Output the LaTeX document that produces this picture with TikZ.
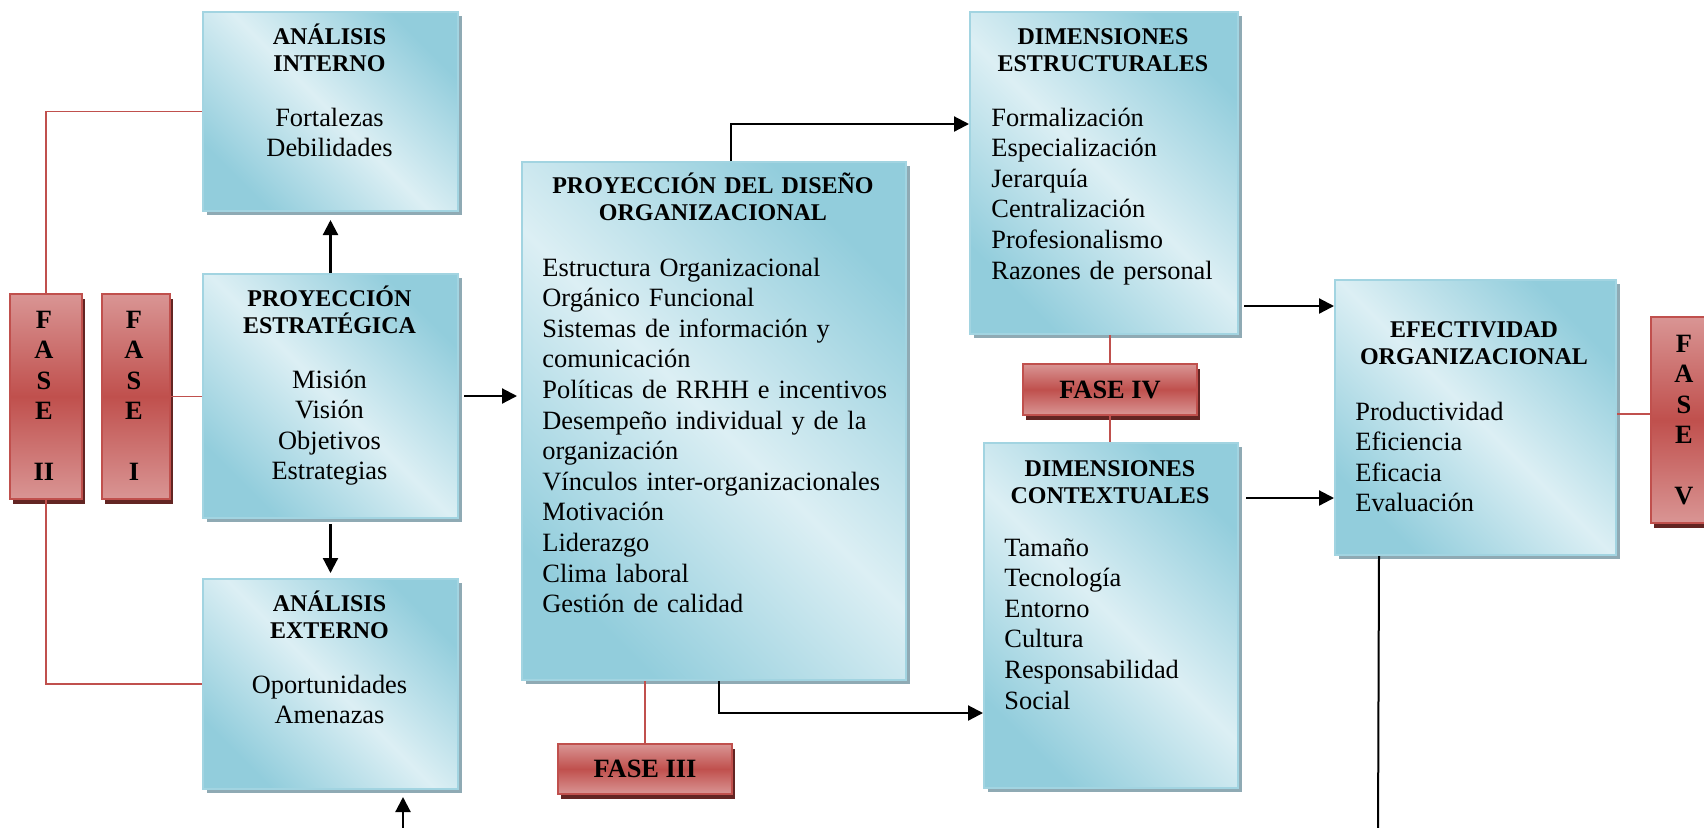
\documentclass[tikz,border=0pt]{standalone}
\usepackage{fontspec}
\setmainfont{Liberation Serif}
\usetikzlibrary{arrows.meta,shadows,calc}
\definecolor{bluedark}{HTML}{92CDDC}
\definecolor{bluelight}{HTML}{DCEFF4}
\definecolor{blueborder}{HTML}{A2D4E1}
\definecolor{blueshadow}{HTML}{8FAAB4}
\definecolor{redlight}{HTML}{D99594}
\definecolor{reddark}{HTML}{C0504D}
\definecolor{redborder}{HTML}{C0504D}
\definecolor{redshadow}{HTML}{632523}
\definecolor{redconn}{HTML}{C0504D}
\newcommand\ttlfont{\fontsize{12}{13.5}\selectfont\bfseries}
\newcommand\bdyfont{\fontsize{13.2}{15.3}\selectfont}
\newcommand\fsfont{\fontsize{13.2}{15.25}\selectfont\bfseries}
\tikzset{
  bluebox/.style={draw=blueborder, line width=1pt, top color=bluedark, bottom color=bluedark, middle color=bluelight, shading angle=-45, general shadow={fill=blueshadow, shadow xshift=2pt, shadow yshift=-2pt}, anchor=north west, inner sep=0pt},
  redbox/.style={draw=redborder, line width=1pt, top color=redlight, bottom color=redlight, middle color=reddark, general shadow={fill=redshadow, shadow xshift=1.5pt, shadow yshift=-2.5pt}, anchor=north west, inner sep=0pt, font=\fsfont},
  titletext/.style={font=\ttlfont, align=center, text width=125pt, inner sep=0pt, anchor=base},
  cbody/.style={font=\bdyfont, align=center, text width=125pt, inner sep=0pt, anchor=base},
  lbody/.style={font=\bdyfont, align=left, text width=130pt, inner sep=0pt, anchor=base west},
  fsletters/.style={font=\fsfont, align=center, text width=30pt, inner sep=0pt, anchor=base},
  redline/.style={draw=redconn, line width=0.9pt},
  arr/.style={draw=black, line width=1.1pt, -{Triangle[length=7.5pt,width=7.5pt]}},
  plain/.style={draw=black, line width=1pt}
}
\begin{document}
\begin{tikzpicture}[x=0.5pt,y=-0.5pt]
\useasboundingbox (0,0) rectangle (1704,827);
\clip (0,0) rectangle (1704,827);

% blue boxes
\node[bluebox, minimum width=127.5pt, minimum height=99.5pt] (ai) at (202,11) {};
\node[bluebox, minimum width=127.5pt, minimum height=122pt] (pe) at (202,273) {};
\node[bluebox, minimum width=127.5pt, minimum height=105pt] (ae) at (202,578) {};
\node[bluebox, minimum width=192pt, minimum height=259pt] (pdo) at (521,161) {};
\node[bluebox, minimum width=134pt, minimum height=161pt] (de) at (969,11) {};
\node[bluebox, minimum width=127pt, minimum height=172.5pt] (dc) at (983,442) {};
\node[bluebox, minimum width=140.5pt, minimum height=137.5pt] (eo) at (1334,279) {};

% red boxes
\node[redbox, minimum width=36pt, minimum height=102.5pt] (f2) at (9,293) {};
\node[redbox, minimum width=34pt, minimum height=102.5pt] (f1) at (101,293) {};
\node[redbox, minimum width=34pt, minimum height=103pt] (f5) at (1650,316) {};
\node[redbox, minimum width=87pt, minimum height=25pt] (f3) at (557,743) {FASE III};
\node[redbox, minimum width=87pt, minimum height=25.5pt] (f4) at (1022,363) {FASE IV};

% texts
\node[titletext] (ait) at (329.5,44) {ANÁLISIS\\INTERNO};
\node[cbody] (aib) at (329.5,126) {Fortalezas\\Debilidades};
\node[titletext] (pet) at (329.5,306) {PROYECCIÓN\\ESTRATÉGICA};
\node[cbody] (peb) at (329.5,388) {Misión\\Visión\\Objetivos\\Estrategias};
\node[titletext] (aet) at (329.5,611) {ANÁLISIS\\EXTERNO};
\node[cbody] (aeb) at (329.5,693) {Oportunidades\\Amenazas};
\node[titletext, text width=190pt] (pdot) at (713,193) {PROYECCIÓN DEL DISEÑO\\ORGANIZACIONAL};
\node[lbody, text width=185pt] (pdob) at (542,276) {Estructura Organizacional\\Orgánico Funcional\\Sistemas de información y\\comunicación\\Políticas de RRHH e incentivos\\Desempeño individual y de la\\organización\\Vínculos inter-organizacionales\\Motivación\\Liderazgo\\Clima laboral\\Gestión de calidad};
\node[titletext, text width=130pt] (det) at (1103,44) {DIMENSIONES\\ESTRUCTURALES};
\node[lbody] (deb) at (991,126) {Formalización\\Especialización\\Jerarquía\\Centralización\\Profesionalismo\\Razones de personal};
\node[titletext] (dct) at (1110,476) {DIMENSIONES\\CONTEXTUALES};
\node[lbody] (dcb) at (1004,556) {Tamaño\\Tecnología\\Entorno\\Cultura\\Responsabilidad\\Social};
\node[titletext, text width=135pt] (eot) at (1474,337) {EFECTIVIDAD\\ORGANIZACIONAL};
\node[lbody] (eob) at (1355,420) {Productividad\\Eficiencia\\Eficacia\\Evaluación};
\node[fsletters] (f2t) at (44,328) {F\\A\\S\\E\\[15.25pt]II};
\node[fsletters] (f1t) at (134,328) {F\\A\\S\\E\\[15.25pt]I};
\node[fsletters] (f5t) at (1684,352) {F\\A\\S\\E\\[15.25pt]V};

% red connectors
\draw[redline] (f2.north) |- (ai.west);
\draw[redline] (f2.south) |- (ae.west);
\draw[redline] (f1.east) -- (f1.east -| pe.west);
\draw[redline] (pdo.south -| f3.north) -- (f3.north);
\draw[redline] (de.south -| f4.north) -- (f4.north);
\draw[redline] (f4.south) -- (f4.south |- dc.north);
\draw[redline] ([yshift=1.75pt]eo.east) -- ([yshift=1.75pt]eo.east -| f5.west);

% black connectors
\coordinate (eobot) at (1378,840);
\coordinate (aebot) at (403,840);
\draw[arr] (pe.north) -- ([yshift=-4pt]ai.south);
\draw[arr] ([yshift=-2.5pt]pe.south) -- ([yshift=2.5pt]ae.north);
\draw[arr] ([xshift=2.5pt]pe.east) -- ([xshift=-2pt]pe.east -| pdo.west);
\draw[arr] ([xshift=8.5pt]pdo.north) |- ([yshift=24.5pt]de.west);
\draw[arr] ([xshift=2.5pt]pdo.south) |- ([yshift=-48.75pt]dc.west);
\draw[arr] ([xshift=2.5pt,yshift=-66.5pt]de.east) -- ([yshift=-66.5pt]de.east -| eo.west);
\draw[arr] ([xshift=3.5pt,yshift=58.75pt]dc.east) -- ([yshift=58.75pt]dc.east -| eo.west);
\draw[plain] ([xshift=-48.25pt]eo.south) -- (eobot);
\draw[arr] (aebot) -- ([yshift=-3.5pt]aebot |- ae.south);
\end{tikzpicture}
\end{document}
